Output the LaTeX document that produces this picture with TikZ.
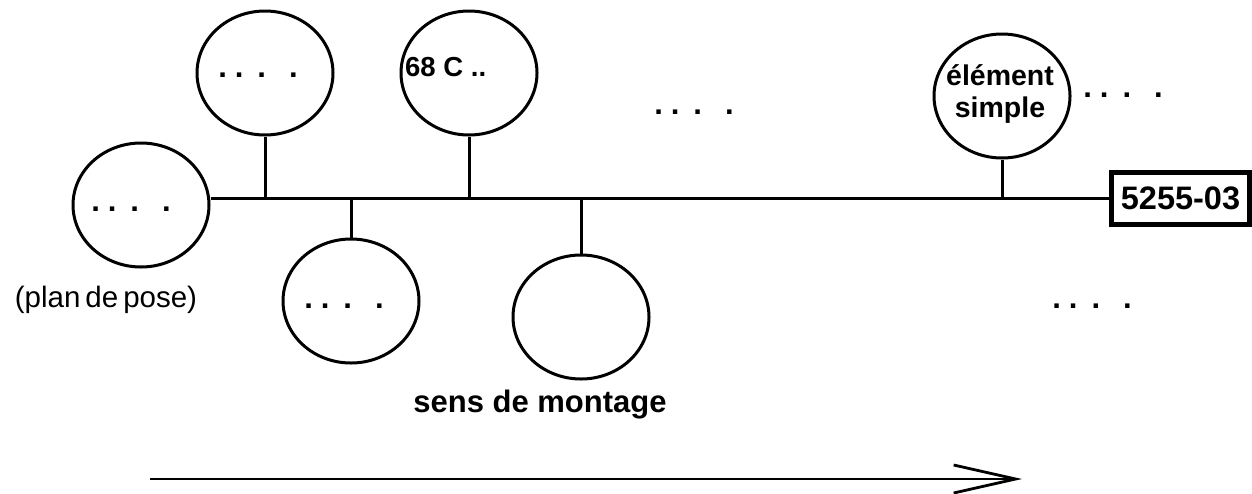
\documentclass[tikz,border=0pt]{standalone}
\usepackage{fontspec}
\setmainfont{Liberation Sans}
\usetikzlibrary{shapes.geometric,arrows.meta}
\newcommand{\dotrow}{.\hspace{8pt}.\hspace{14pt}.\hspace{23pt}.}
\begin{document}
\begin{tikzpicture}[x=1pt,y=-1pt,
  elem/.style={ellipse,draw,line width=3pt,inner sep=0pt,minimum width=136pt,minimum height=124pt},
  wire/.style={line width=3pt},
  dotsnode/.style={inner sep=0pt,font=\fontsize{31}{33}\bfseries\selectfont},
  lbl/.style={inner sep=0pt,font=\fontsize{28}{30}\bfseries\selectfont,align=center}]
\useasboundingbox (0,0) rectangle (1252,493);
% ellipses
\node[elem] (e1) at (141,205) {};
\node[elem] (e2) at (265,73) {};
\node[elem] (e3) at (469,73) {};
\node[elem] (e4) at (351,301) {};
\node[elem] (e5) at (581,317) {};
\node[elem] (e6) at (1002,96) {};
% final box
\node[draw,line width=5pt,minimum width=138pt,minimum height=52pt,inner sep=0pt,
      font=\fontsize{32.5}{34}\bfseries\selectfont] (box) at (1180.5,198) {5255-03};
% spine
\draw[wire] (e1.east |- box.west) -- (box.west);
\draw[wire] (e2.south) -- (e2.south |- box.west);
\draw[wire] (e3.south) -- (e3.south |- box.west);
\draw[wire] (e6.south) -- (e6.south |- box.west);
\draw[wire] (e4.north) -- (e4.north |- box.west);
\draw[wire] (e5.north) -- (e5.north |- box.west);
% texts
\node[dotsnode] (d1) at (131,209) {\dotrow};
\node[dotsnode] (d2) at (258,75) {\dotrow};
\node[dotsnode] (d4) at (344,306) {\dotrow};
\node[dotsnode] (dm) at (694,112) {\dotrow};
\node[dotsnode] (d6) at (1123,95) {\dotrow};
\node[dotsnode] (d7) at (1092,306) {\dotrow};
\node[lbl,anchor=west,font=\fontsize{27.5}{29}\bfseries\selectfont] (t3) at (405,67) {68 C ..};
\node[lbl,font=\fontsize{28.5}{32}\bfseries\selectfont] (t6) at (1000,94) {élément\\simple};
\node[inner sep=0pt,font=\fontsize{29.5}{31}\selectfont] (pose) at (106,300) {(plan\hspace{5pt}de\hspace{5pt}pose)};
\node[lbl,font=\fontsize{31}{33}\bfseries\selectfont] (sens) at (540,405) {sens de montage};
% arrow
\coordinate (a0) at (150,479);
\coordinate (a1) at (1022,479);
\draw[line width=2.8pt,-{Straight Barb[length=62pt,width=28pt,line width=2.8pt]}] (a0) -- (a1);
\end{tikzpicture}
\end{document}
